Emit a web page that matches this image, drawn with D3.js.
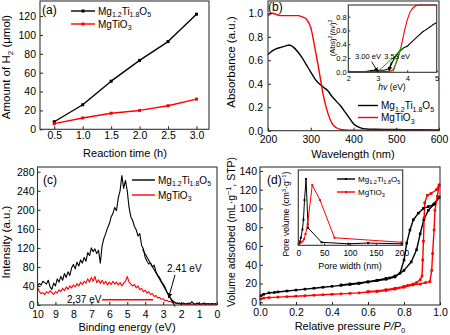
<!DOCTYPE html>
<html><head><meta charset="utf-8">
<script src="https://cdn.jsdelivr.net/npm/d3@7"></script>
<style>body{margin:0;background:#fff}svg{display:block}text{font-family:Arial,"Liberation Sans",sans-serif;fill:#000}</style>
</head><body><svg id="c" width="450" height="335"></svg>
<script>
// ---------------- DATA ----------------
const seriesNames = ["Mg1.2Ti1.8O5", "MgTiO3"];
const seriesColors = ["#000000", "#ff0000"];

// (a) H2 evolution
const rxnTime = [0.5, 1.0, 1.5, 2.0, 2.5, 3.0];
const h2Mg12 = [8, 26, 51, 73, 93, 122];
const h2MgTiO3 = [6, 12, 17, 20, 25, 32];
const aXTicks = [0.5, 1.0, 1.5, 2.0, 2.5, 3.0];
const aYTicks = [0, 20, 40, 60, 80, 100, 120];

// (b) UV-vis absorbance
const wavelength = [200,210,220,230,240,250,260,270,280,290,300,310,320,330,340,350,360,370,380,390,400,410,420,430,450,500,550,600];
const absMg12 =    [0.65,0.68,0.70,0.71,0.72,0.73,0.71,0.67,0.62,0.56,0.50,0.44,0.40,0.37,0.34,0.29,0.25,0.21,0.16,0.11,0.06,0.035,0.02,0.015,0.012,0.01,0.008,0.007];
const absMgTiO3 =  [0.98,1.0,0.99,0.98,0.98,0.98,0.98,0.98,0.97,0.95,0.88,0.70,0.50,0.29,0.15,0.06,0.025,0.01,0.006,0.005,0.005,0.005,0.005,0.005,0.005,0.005,0.005,0.005];
const bXTicks = [200, 300, 400, 500, 600];
const bYTicks = [0.0, 0.2, 0.4, 0.6, 0.8, 1.0];
// (b) inset Tauc plot
const photonE =    [2.0,2.5,2.7,2.9,3.0,3.1,3.2,3.3,3.4,3.5,3.6,3.7,3.8,3.9,4.0,4.1,4.2,4.3,4.4,4.5,4.6,4.7,4.8,4.9,5.0];
const taucMg12 =   [0,0,0.01,0.02,0.02,0.02,0.02,0.03,0.06,0.14,0.22,0.28,0.32,0.35,0.37,0.41,0.45,0.49,0.53,0.57,0.60,0.63,0.66,0.69,0.71];
const taucMgTiO3 = [0,0,0,0,0,0,0,0,0.005,0.02,0.10,0.22,0.38,0.58,0.75,0.87,0.93,0.96,0.97,0.97,0.97,0.97,0.97,0.97,0.97];
const insetBXTicks = [2, 3, 4, 5];
const insetBYTicks = [0.0, 0.2, 0.4, 0.6, 0.8];
const gapFitE1 = [3.00, 3.90], gapFitV1 = [0, 0.35];
const gapFitE2 = [3.53, 3.78], gapFitV2 = [0, 0.35];
const gapLabels = ["3.00 eV", "3.53 eV"];

// (c) valence band XPS
const bindingE = [10.0,9.9,9.8,9.7,9.6,9.5,9.4,9.3,9.2,9.1,9.0,8.9,8.8,8.7,8.6,8.5,8.4,8.3,8.2,8.1,8.0,7.9,7.8,7.7,7.6,7.5,7.4,7.3,7.2,7.1,7.0,6.9,6.8,6.7,6.6,6.5,6.4,6.3,6.2,6.1,6.0,5.9,5.8,5.7,5.6,5.5,5.4,5.3,5.2,5.1,5.0,4.9,4.8,4.7,4.6,4.5,4.4,4.3,4.2,4.1,4.0,3.9,3.8,3.7,3.6,3.5,3.4,3.3,3.2,3.1,3.0,2.9,2.8,2.7,2.6,2.5,2.4,2.3,2.2,2.1,2.0,1.9,1.8,1.7,1.6,1.5,1.4,1.3,1.2,1.1,1.0,0.9,0.8,0.7,0.6,0.5,0.4,0.3,0.2,0.1,0.0];
const vbMg12 = [40,45,42,50,47,44,52,38,33,46,40,55,48,60,52,66,58,70,62,78,85,76,90,82,95,88,100,92,110,104,120,112,118,108,115,88,125,140,150,162,170,185,192,205,198,225,240,272,245,262,240,205,185,178,165,158,145,150,125,118,100,92,86,88,80,84,70,62,58,50,44,38,28,22,15,10,7,5,3,4,2,4,3,2,4,3,7,3,2,4,3,2,3,4,2,3,2,3,2,3,1];
const vbMgTiO3 = [38,28,24,26,22,28,25,30,26,22,28,25,32,28,35,30,38,33,40,36,42,38,45,40,48,43,50,46,55,48,58,50,60,47,53,45,52,44,50,42,48,43,50,44,48,42,47,40,46,50,60,48,44,40,43,36,40,32,35,28,31,25,28,22,24,18,20,15,16,12,13,9,10,7,8,5,6,3,4,2,1,2,1,2,1,1,2,1,1,2,1,1,2,1,1,2,1,1,2,1,1];
const cXTicks = [10,9,8,7,6,5,4,3,2,1,0];
const cYTicks = [0, 40, 80, 120, 160, 200, 240, 280];
const vbEdgeE = [4.15, 2.33], vbEdgeV = [117, -3];
const vbLabels = ["2.41 eV", "2.37 eV"];

// (d) N2 isotherms
const pAdsMg12 = [0.005,0.02,0.05,0.08,0.1,0.15,0.2,0.25,0.3,0.35,0.4,0.45,0.5,0.55,0.6,0.65,0.7,0.75,0.8,0.84,0.87,0.89,0.91,0.935,0.97,0.995];
const vAdsMg12 = [7,8.5,10,10.5,11,12,13,14,15,16,17,18,19,20,21.5,23,24.5,27,34,43,56,73,88,98,105,112];
const pDesMg12 = [0.995,0.963,0.935,0.907,0.88,0.852,0.833,0.815,0.80,0.778,0.75,0.72,0.7,0.65,0.6,0.55,0.5,0.45];
const vDesMg12 = [112,104,102,100,95,88,77,63,45,31,28,26,25.5,23.5,22,20.5,19.5,18.5];
const pAdsMgTiO3 = [0.005,0.02,0.05,0.1,0.15,0.2,0.25,0.3,0.35,0.4,0.45,0.5,0.55,0.6,0.65,0.7,0.75,0.8,0.85,0.89,0.92,0.944,0.954,0.959,0.967,0.972,0.985,0.995];
const vAdsMgTiO3 = [3.5,4.5,5,5.5,6,6.5,7,7.5,8,8.5,9,9.5,10,11,11.5,12.5,14,16,18.5,19.5,21,22,34,52,77,98,113,125];
const pDesMgTiO3 = [0.995,0.98,0.95,0.93,0.915,0.912,0.908,0.904,0.9,0.89,0.87,0.85,0.82,0.8,0.75,0.7,0.65,0.6];
const vDesMgTiO3 = [125,120,116,114,106,90,65,45,28,24,21,19.5,18,17,15,13.5,12,11.5];
const dXTicks = [0.0, 0.2, 0.4, 0.6, 0.8, 1.0];
const dYTicks = [0, 20, 40, 60, 80, 100, 120, 140];
// (d) inset pore size distribution (relative units)
const poreWMg12 = [1,3,5,8,10,12,15,19,45,97,135,200];
const poreVMg12 = [0.02,0.05,0.1,0.21,0.34,0.6,0.88,0.23,0.04,0.02,0.03,0.02];
const poreWMgTiO3 = [1,4,8,11,14,18,27,42,70,200];
const poreVMgTiO3 = [0.02,0.03,0.05,0.08,0.15,0.28,0.8,0.6,0.1,0.04];
const insetDXTicks = [0, 50, 100, 150, 200];

// ---------------- HELPERS ----------------
const svg = d3.select("#c");
svg.append("rect").attr("width", 450).attr("height", 335).attr("fill", "#fff");
const defs = svg.append("defs");
defs.append("marker").attr("id","arrow").attr("viewBox","0 0 10 10").attr("refX",9).attr("refY",5)
  .attr("markerWidth",5).attr("markerHeight",5).attr("orient","auto-start-reverse")
  .append("path").attr("d","M0,0L10,5L0,10z").attr("fill","#000");

function rich(sel, parts, fs) {
  let shift = 0;
  parts.forEach(([s, t]) => {
    const ts = sel.append("tspan").text(s);
    const target = t === "sub" ? fs * 0.28 : t === "sup" ? -fs * 0.38 : 0;
    if (target - shift !== 0) ts.attr("dy", target - shift);
    shift = target;
    if (t === "sub" || t === "sup") ts.attr("font-size", fs * 0.7);
    if (t === "it") ts.attr("font-style", "italic");
  });
}
function formulaParts(name) {
  const parts = [];
  name.replace(/([A-Za-z]+)([\d.]*)/g, (m, a, b) => { parts.push([a, "n"]); if (b) parts.push([b, "sub"]); return m; });
  return parts;
}

function axes(g, x, y, o) {
  const [yb, yt] = y.range(), [xl, xr] = x.range();
  const gx = g.append("g").attr("transform", `translate(0,${yb})`)
    .call(d3.axisBottom(x).tickValues(o.xt).tickFormat(o.xf).tickSizeInner(-o.tick).tickSizeOuter(0).tickPadding(o.xpad));
  gx.select(".domain").remove();
  gx.selectAll("text").attr("font-size", o.fs).attr("fill", "#000").attr("font-family", null);
  if (o.yt) {
    const gy = g.append("g").attr("transform", `translate(${xl},0)`)
      .call(d3.axisLeft(y).tickValues(o.yt).tickFormat(o.yf).tickSizeInner(-o.tick).tickSizeOuter(0).tickPadding(o.ypad));
    gy.select(".domain").remove();
    gy.selectAll("text").attr("font-size", o.fs).attr("fill", "#000").attr("font-family", null);
  }
  g.selectAll(".tick line").attr("stroke", "#222");
  g.append("rect").attr("x", xl).attr("y", yt).attr("width", xr - xl).attr("height", yb - yt)
    .attr("fill", "none").attr("stroke", "#333").attr("stroke-width", 1.1);
}
function yLabel(g, x, yc, parts, fs) {
  const t = g.append("text").attr("transform", `translate(${x},${yc}) rotate(-90)`)
    .attr("text-anchor", "middle").attr("font-size", fs);
  rich(t, parts, fs);
}
function xLabel(g, xc, y, parts, fs) {
  const t = g.append("text").attr("x", xc).attr("y", y).attr("text-anchor", "middle").attr("font-size", fs);
  rich(t, parts, fs);
}
function line(g, x, y, xs, ys, color, w, curve) {
  const l = d3.line().x((d, i) => x(xs[i])).y(d => y(d));
  if (curve) l.curve(curve);
  g.append("path").datum(ys).attr("d", l).attr("fill", "none").attr("stroke", color)
    .attr("stroke-width", w).attr("stroke-linejoin", "round");
}
function squares(g, x, y, xs, ys, color, s) {
  g.selectAll(null).data(ys).enter().append("rect")
    .attr("x", (d, i) => x(xs[i]) - s/2).attr("y", d => y(d) - s/2)
    .attr("width", s).attr("height", s).attr("fill", color);
}
function legend(g, x0, x1, ys, fs, marker) {
  seriesNames.forEach((n, i) => {
    g.append("line").attr("x1", x0).attr("x2", x1).attr("y1", ys[i]).attr("y2", ys[i])
      .attr("stroke", seriesColors[i]).attr("stroke-width", 1.4);
    if (marker) g.append("rect").attr("x", (x0+x1)/2 - marker/2).attr("y", ys[i] - marker/2)
      .attr("width", marker).attr("height", marker).attr("fill", seriesColors[i]);
    const t = g.append("text").attr("x", x1 + 3).attr("y", ys[i] + fs*0.36).attr("font-size", fs);
    rich(t, formulaParts(n), fs);
  });
}
function panelLabel(g, x, y, s) {
  g.append("text").attr("x", x).attr("y", y).attr("font-size", 12).text(s);
}
const f1 = d3.format(".1f"), fi = d3.format("d");

// ---------------- (a) ----------------
{
  const g = svg.append("g");
  const x = d3.scaleLinear().domain([0.25, 3.22]).range([40, 209]);
  const y = d3.scaleLinear().domain([0, 136]).range([129.3, 1]);
  line(g, x, y, rxnTime, h2Mg12, seriesColors[0], 1.4);
  line(g, x, y, rxnTime, h2MgTiO3, seriesColors[1], 1.4);
  squares(g, x, y, rxnTime, h2Mg12, seriesColors[0], 3);
  squares(g, x, y, rxnTime, h2MgTiO3, seriesColors[1], 3);
  axes(g, x, y, {xt: aXTicks, xf: f1, yt: aYTicks, yf: fi, tick: 3, xpad: 2, ypad: 4, fs: 10.5});
  yLabel(g, 10, 67, [["Amount of H","n"],["2","sub"],[" (μmol)","n"]], 11.5);
  xLabel(g, 125, 157, [["Reaction time (h)","n"]], 11);
  legend(g, 71, 95, [11, 24], 10, 3);
  panelLabel(g, 42, 14, "(a)");
}

// ---------------- (b) ----------------
{
  const g = svg.append("g");
  const x = d3.scaleLinear().domain([200, 600]).range([268, 439]);
  const y = d3.scaleLinear().domain([0, 1.105]).range([130.7, 1]);
  line(g, x, y, wavelength, absMg12, seriesColors[0], 1.4, d3.curveMonotoneX);
  line(g, x, y, wavelength, absMgTiO3, seriesColors[1], 1.4, d3.curveMonotoneX);
  axes(g, x, y, {xt: bXTicks, xf: fi, yt: bYTicks, yf: f1, tick: 3, xpad: 4.5, ypad: 5, fs: 10.5});
  yLabel(g, 235, 62, [["Absorbance (a.u.)","n"]], 11.5);
  xLabel(g, 353, 158, [["Wavelength (nm)","n"]], 11);
  legend(g, 358, 378, [105.5, 117.5], 10, 0);
  panelLabel(g, 268, 11, "(b)");

  // inset
  const gi = svg.append("g");
  const xi = d3.scaleLinear().domain([2, 5]).range([348.3, 436.7]);
  const yi = d3.scaleLinear().domain([-0.01, 0.97]).range([72.3, 5]);
  gi.append("rect").attr("x", 348.3).attr("y", 5).attr("width", 88.4).attr("height", 67.3).attr("fill", "#fff");
  line(gi, xi, yi, photonE, taucMg12, seriesColors[0], 1.1, d3.curveMonotoneX);
  line(gi, xi, yi, photonE, taucMgTiO3, seriesColors[1], 1.1, d3.curveMonotoneX);
  line(gi, xi, yi, gapFitE1, gapFitV1, "#00b400", 1);
  line(gi, xi, yi, gapFitE2, gapFitV2, "#00b400", 1);
  axes(gi, xi, yi, {xt: insetBXTicks, xf: fi, yt: insetBYTicks, yf: f1, tick: 2, xpad: 3, ypad: 1.5, fs: 7.5});
  yLabel(gi, 334.5, 38, [["(Abs)","n"],["2","sup"],["(","n"],["hv","it"],[")","n"],["2","sup"]], 7.5);
  xLabel(gi, 392, 90, [["hv","it"],[" (eV)","n"]], 8.5);
  gi.append("text").attr("x", xi(2.23)).attr("y", yi(0.19)).attr("font-size", 7.5).text(gapLabels[0]);
  gi.append("text").attr("x", xi(3.22)).attr("y", yi(0.19)).attr("font-size", 7.5).text(gapLabels[1]);
  gi.append("line").attr("x1", xi(2.79)).attr("y1", yi(0.145)).attr("x2", xi(3.0)).attr("y2", yi(0.0))
    .attr("stroke", "#000").attr("stroke-width", 0.9).attr("marker-end", "url(#arrow)");
  gi.append("line").attr("x1", xi(3.46)).attr("y1", yi(0.145)).attr("x2", xi(3.38)).attr("y2", yi(0.01))
    .attr("stroke", "#000").attr("stroke-width", 0.9).attr("marker-end", "url(#arrow)");
}

// ---------------- (c) ----------------
{
  const g = svg.append("g");
  const x = d3.scaleLinear().domain([10, 0]).range([37.5, 217]);
  const y = d3.scaleLinear().domain([0, 290]).range([305, 167]);
  line(g, x, y, bindingE, vbMgTiO3, seriesColors[1], 1.1);
  line(g, x, y, bindingE, vbMg12, seriesColors[0], 1.1);
  line(g, x, y, vbEdgeE, vbEdgeV, "#000", 1.1);
  g.append("line").attr("x1", x(6.4)).attr("x2", x(3.55)).attr("y1", y(11)).attr("y2", y(11))
    .attr("stroke", "#ff0000").attr("stroke-width", 1.4);
  axes(g, x, y, {xt: cXTicks, xf: fi, yt: cYTicks, yf: fi, tick: 3, xpad: 6, ypad: 3, fs: 10.5});
  yLabel(g, 9.5, 242, [["Intensity (a.u.)","n"]], 11.5);
  xLabel(g, 127, 331, [["Binding energy (eV)","n"]], 11);
  legend(g, 132, 155, [180, 195], 10, 0);
  panelLabel(g, 43, 184, "(c)");
  g.append("text").attr("x", x(2.78)).attr("y", y(69)).attr("font-size", 10).text(vbLabels[0]);
  g.append("text").attr("x", x(8.36)).attr("y", y(3.5)).attr("font-size", 10).text(vbLabels[1]);
  g.append("line").attr("x1", x(2.34)).attr("y1", y(63)).attr("x2", x(2.7)).attr("y2", y(15))
    .attr("stroke", "#000").attr("stroke-width", 1).attr("marker-end", "url(#arrow)");
}

// ---------------- (d) ----------------
{
  const g = svg.append("g");
  const x = d3.scaleLinear().domain([0, 1]).range([260, 440]);
  const y = d3.scaleLinear().domain([-2.9, 144.2]).range([305, 167]);
  line(g, x, y, pAdsMg12, vAdsMg12, seriesColors[0], 1.4);
  line(g, x, y, pDesMg12, vDesMg12, seriesColors[0], 1.4);
  line(g, x, y, pAdsMgTiO3, vAdsMgTiO3, seriesColors[1], 1.4);
  line(g, x, y, pDesMgTiO3, vDesMgTiO3, seriesColors[1], 1.4);
  squares(g, x, y, pAdsMg12, vAdsMg12, seriesColors[0], 2.6);
  squares(g, x, y, pDesMg12, vDesMg12, seriesColors[0], 2.6);
  squares(g, x, y, pAdsMgTiO3, vAdsMgTiO3, seriesColors[1], 2.6);
  squares(g, x, y, pDesMgTiO3, vDesMgTiO3, seriesColors[1], 2.6);
  axes(g, x, y, {xt: dXTicks, xf: f1, yt: dYTicks, yf: fi, tick: 3, xpad: 4, ypad: 3, fs: 10.5});
  yLabel(g, 235, 232, [["Volume adsorbed (mL·g","n"],["−1","sup"],[", STP)","n"]], 10.5);
  xLabel(g, 350, 330, [["Relative pressure ","n"],["P","it"],["/","it"],["P","it"],["0","sub"]], 11);
  panelLabel(g, 267, 184, "(d)");

  // inset
  const gi = svg.append("g");
  const xi = d3.scaleLinear().domain([0, 202]).range([298.3, 402.7]);
  const yi = d3.scaleLinear().domain([0, 1]).range([245.3, 170]);
  gi.append("rect").attr("x", 298.3).attr("y", 170).attr("width", 104.4).attr("height", 75.3).attr("fill", "#fff");
  line(gi, xi, yi, poreWMg12, poreVMg12, seriesColors[0], 1);
  line(gi, xi, yi, poreWMgTiO3, poreVMgTiO3, seriesColors[1], 1);
  squares(gi, xi, yi, poreWMg12, poreVMg12, seriesColors[0], 2);
  squares(gi, xi, yi, poreWMgTiO3, poreVMgTiO3, seriesColors[1], 2);
  axes(gi, xi, yi, {xt: insetDXTicks, xf: fi, tick: 2, xpad: 5, fs: 8.5});
  yLabel(gi, 289, 214, [["Pore volume (cm","n"],["3","sup"],["·g","n"],["−1","sup"],[")","n"]], 8.5);
  xLabel(gi, 350, 269, [["Pore width (nm)","n"]], 9);
  legend(gi, 337, 355, [179, 192], 8, 2);
}
</script></body></html>
